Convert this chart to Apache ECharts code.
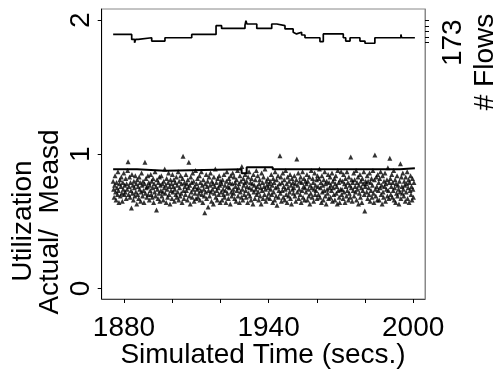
<!DOCTYPE html>
<html><head><meta charset="utf-8">
<script src="https://cdn.jsdelivr.net/npm/echarts@6/dist/echarts.min.js"></script>
<style>html,body{margin:0;padding:0;background:#fff}#c{width:499px;height:376px}</style>
</head><body><div id="c"></div>
<script>
// ---- data ----
const xTicks = [1880, 1900, 1920, 1940, 1960, 1980, 2000];
const xTickLabels = [1880, 1940, 2000];
const yTicks = [0, 1, 2];
const flowTicks = [173, 174, 175, 176, 177];
const flowTickLabels = [173];

const flowsTime  = [1875.5,1883.2,1884.4,1884.8,1885.9,1891.5,1897.0,1908.1,1918.2,1920.5,1930.2,1930.6,1931.0,1935.1,1941.3,1943.4,1946.8,1950.2,1951.0,1951.6,1953.7,1955.1,1961.3,1962.7,1971.0,1972.0,1973.8,1977.9,1980.0,1984.1,1994.9,1995.2,2000.7];
const flowsCount = [174.5,173.6,173.0,173.6,173.9,173.3,173.9,174.5,176.1,175.6,176.2,177.0,176.4,175.6,176.4,176.1,175.5,174.9,174.6,174.9,174.4,173.9,173.2,174.6,173.9,173.3,173.9,173.3,172.9,173.9,174.5,173.9,173.9];

const actualTime = [1875.5,1885.4,1897.0,1928.8,1930.9,1941.7,1994.5,2000.7];
const actualUtil = [.888,.878,.888,.858,.903,.888,.896,.896];

const measdStart = 1875.5;   // first measurement time (secs)
const measdStep = 0.2;       // measurement sampling period (secs)
const measdUtil = [
.80,.74,.68,.77,.84,.72,.66,.79,.75,.70,.87,.73,.64,.78,.81,.69,.76,.83,.71,.65,.79,.74,.86,.70,.77,
.72,.82,.67,.78,.74,.88,.945,.70,.76,.83,.68,.79,.73,.60,.85,.71,.77,.66,.80,.75,.69,.84,.72,.78,.63,
.81,.70,.76,.67,.83,.74,.79,.65,.72,.86,.77,.69,.80,.73,.64,.78,.94,.71,.82,.75,.68,.76,.84,.70,.79,
.66,.77,.73,.85,.70,.80,.68,.75,.82,.64,.78,.72,.87,.69,.76,.585,.81,.74,.67,.79,.71,.83,.65,.77,.73,
.84,.69,.78,.72,.66,.80,.75,.89,.71,.77,.64,.82,.74,.68,.79,.86,.70,.76,.63,.81,.73,.78,.67,.85,.72,
.76,.81,.65,.74,.79,.70,.83,.68,.77,.72,.87,.66,.80,.75,.69,.84,.71,.78,.64,.82,.985,.73,.67,.79,.76,
.70,.85,.73,.78,.66,.81,.75,.94,.69,.77,.63,.83,.72,.79,.68,.86,.74,.80,.65,.76,.71,.88,.67,.78,.74,
.82,.68,.75,.71,.84,.66,.79,.73,.87,.70,.77,.64,.81,.74,.69,.565,.78,.72,.85,.67,.76,.80,.607,.73,.83,
.69,.77,.86,.72,.65,.80,.74,.78,.63,.83,.71,.76,.89,.68,.79,.73,.66,.82,.75,.70,.84,.77,.64,.80,.72,
.78,.66,.81,.74,.70,.85,.68,.77,.73,.64,.80,.87,.71,.76,.67,.82,.75,.79,.63,.84,.72,.69,.78,.86,.74,
.71,.83,.67,.79,.76,.65,.81,.73,.88,.69,.75,.78,.64,.84,.72,.80,.68,.91,.74,.66,.82,.77,.70,.79,.85,
.73,.68,.80,.76,.64,.83,.71,.87,.75,.69,.79,.66,.82,.74,.78,.63,.85,.72,.77,.67,.81,.74,.88,.70,.76,
.84,.72,.66,.78,.81,.69,.75,.63,.86,.73,.79,.67,.83,.76,.70,.89,.74,.65,.80,.77,.68,.82,.75,.71,.78,
.67,.80,.74,.85,.70,.77,.64,.82,.72,.79,.66,.87,.75,.69,.81,.62,.76,.84,.68,.73,.78,.99,.71,.83,.65,
.79,.73,.86,.68,.76,.81,.66,.74,.88,.70,.78,.64,.83,.75,.69,.80,.72,.85,.67,.77,.63,.82,.74,.79,.71,
.75,.84,.69,.78,.65,.81,.965,.72,.77,.86,.67,.74,.80,.70,.83,.64,.79,.73,.87,.68,.76,.82,.66,.75,.80,
.72,.78,.85,.66,.80,.74,.69,.83,.63,.77,.71,.88,.75,.68,.82,.79,.65,.74,.86,.70,.77,.73,.81,.67,.84,
.76,.70,.82,.89,.68,.75,.79,.64,.84,.72,.77,.66,.81,.73,.87,.69,.78,.63,.80,.74,.71,.85,.67,.79,.75,
.83,.68,.77,.73,.86,.65,.80,.75,.70,.82,.66,.78,.84,.71,.76,.63,.88,.73,.79,.68,.64,.81,.74,.87,.70,
.74,.80,.67,.85,.72,.78,.64,.82,.76,.69,.87,.73,.79,.66,.83,.71,.77,.68,.98,.75,.81,.65,.79,.73,.86,
.69,.81,.76,.72,.88,.66,.79,.74,.83,.63,.77,.71,.85,.68,.80,.75,.64,.82,.73,.78,.87,.70,.577,.76,.80,
.78,.72,.84,.67,.80,.75,.70,.86,.65,.79,.73,.82,.68,.77,.88,.71,.64,.81,.995,.74,.69,.83,.76,.66,.85,
.73,.79,.66,.82,.75,.87,.70,.77,.63,.84,.72,.68,.80,.76,.86,.65,.78,.74,.81,.69,.90,.73,.67,.79,.97,
.82,.70,.76,.85,.68,.79,.73,.88,.66,.75,.81,.64,.78,.71,.84,.69,.77,.74,.63,.80,.72,.93,.67,.83,.76,
.71,.86,.74,.69,.80,.77,.65,.83,.72,.78,.87,.67,.75,.81,.64,.79,.73,.84,.70,.76,.66,.82,.74,.68,.79
];

const xAxisName = 'Simulated Time (secs.)';
const yNameLine1 = 'Utilization';
const yNameLine2 = 'Actual/  Measd';
const flowsName = '# Flows';

// ---- chart ----
const FONT = '"Liberation Sans", Arial, sans-serif';
const chart = echarts.init(document.getElementById('c'), null, {renderer: 'canvas'});
const measdData = measdUtil.map((v, i) => [measdStart + i * measdStep, v]);
const actualData = actualTime.map((t, i) => [t, actualUtil[i]]);
const flowsData = flowsTime.map((t, i) => [t, flowsCount[i]]);

chart.setOption({
  animation: false,
  backgroundColor: '#fff',
  grid: {left: 101.7, right: 74, top: 9, bottom: 77, show: true, borderColor: '#888', borderWidth: 1},
  xAxis: {
    type: 'value', min: 1870.75, max: 2004.9,
    axisLine: {show: true, onZero: false, lineStyle: {color: '#444', width: 1}},
    axisTick: {show: true, inside: false, length: 4, customValues: xTicks, lineStyle: {color: '#000'}},
    axisLabel: {customValues: xTickLabels, formatter: v => String(v), margin: 15, fontSize: 28, color: '#000', fontFamily: FONT},
    splitLine: {show: false}
  },
  yAxis: [{
    type: 'value', min: -0.0782, max: 2.0827, position: 'left',
    axisLine: {show: true, onZero: false, lineStyle: {color: '#000', width: 1}},
    axisTick: {show: true, length: 4, customValues: yTicks, lineStyle: {color: '#000'}},
    axisLabel: {customValues: yTicks, formatter: v => String(v), rotate: 90, margin: 6, fontSize: 28, color: '#000', fontFamily: FONT},
    splitLine: {show: false}
  }, {
    type: 'value', min: 126.4, max: 179.127, position: 'right',
    axisLine: {show: true, onZero: false, lineStyle: {color: '#888', width: 1}},
    axisTick: {show: true, length: 4, customValues: flowTicks, lineStyle: {color: '#000'}},
    axisLabel: {customValues: flowTickLabels, formatter: v => String(v), rotate: 90, margin: 14, fontSize: 28, color: '#000', fontFamily: FONT},
    splitLine: {show: false}
  }],
  series: [{
    type: 'scatter', yAxisIndex: 0, data: measdData,
    symbol: 'triangle', symbolSize: 5, itemStyle: {color: '#000'}, silent: true
  }, {
    type: 'line', yAxisIndex: 0, data: actualData, step: 'end', showSymbol: false,
    lineStyle: {color: '#000', width: 2}, silent: true
  }, {
    type: 'line', yAxisIndex: 1, data: flowsData, step: 'end', showSymbol: false,
    lineStyle: {color: '#000', width: 1.7}, silent: true
  }],
  graphic: [
    {type: 'text', x: 263, y: 355, style: {text: xAxisName, font: '28px ' + FONT, fill: '#000', align: 'center', verticalAlign: 'middle'}},
    {type: 'text', x: 23, y: 221, rotation: Math.PI / 2, style: {text: yNameLine1, font: '28px ' + FONT, fill: '#000', align: 'center', verticalAlign: 'middle'}},
    {type: 'text', x: 50, y: 222, rotation: Math.PI / 2, style: {text: yNameLine2, font: '28px ' + FONT, fill: '#000', align: 'center', verticalAlign: 'middle'}},
    {type: 'text', x: 485, y: 62, rotation: Math.PI / 2, style: {text: flowsName, font: '28px ' + FONT, fill: '#000', align: 'center', verticalAlign: 'middle'}}
  ]
});
</script></body></html>
